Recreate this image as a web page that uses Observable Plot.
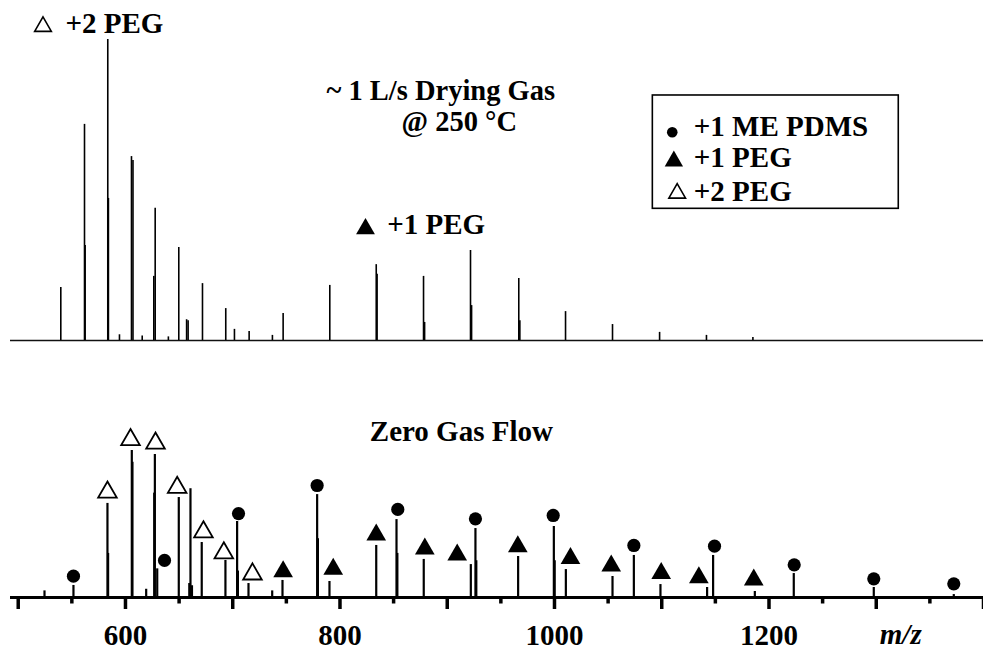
<!DOCTYPE html>
<html>
<head>
<meta charset="utf-8">
<script src="https://cdn.jsdelivr.net/npm/d3@7"></script>
<script src="https://cdn.jsdelivr.net/npm/@observablehq/plot@0.6"></script>
<style>
  html, body { margin: 0; padding: 0; background: white; }
  #chart svg { display: block; }
</style>
</head>
<body>
<div id="chart"></div>
<script>
// ---------- data (m/z, relative intensity %) ----------
const xDomain = [492.8, 1400];

// Top spectrum: ~1 L/s drying gas @ 250 °C
const topMz  = [539.7, 561.8, 562.4, 583.5, 584.1, 594.4, 605.6, 607.0, 615.6, 626.4, 627.7, 640.0, 649.7, 657.0, 658.4, 671.8, 693.5, 701.6, 715.3, 737.0, 747.0, 790.5, 833.8, 834.6, 877.9, 878.9, 921.7, 922.7, 966.7, 967.7, 1010.3, 1054.1, 1098.0, 1141.7, 1185.0];
const topInt = [17.6, 71.8, 31.6, 100, 47.2, 1.9, 61.1, 59.8, 1.5, 21.3, 43.9, 1.2, 30.9, 6.9, 6.6, 18.9, 10.6, 3.7, 3.0, 1.7, 9.0, 18.3, 25.2, 22.0, 21.3, 6.0, 29.9, 11.6, 20.6, 6.6, 9.6, 5.3, 2.7, 1.7, 1.0];

// Bottom spectrum: zero gas flow
const botMz  = [524.5, 551.5, 583.2, 583.8, 605.9, 606.5, 619.3, 626.8, 627.4, 629.6, 649.7, 659.5, 660.6, 662.0, 671.1, 693.2, 704.1, 704.8, 714.7, 736.8, 746.4, 778.7, 779.4, 790.2, 833.8, 852.7, 853.5, 878.1, 922.0, 926.3, 927.1, 966.1, 999.4, 1000.2, 1010.6, 1054.1, 1074.0, 1098.8, 1142.3, 1147.9, 1186.8, 1223.1, 1297.7, 1372.3];
const botInt = [4.5, 8.2, 64.0, 30.0, 100, 92, 5.6, 71.0, 97.3, 19.5, 68.0, 9.5, 74.0, 8.0, 37.4, 25.2, 51.7, 18.0, 9.5, 4.5, 11.6, 70.0, 40.0, 10.9, 35.4, 53.0, 30.0, 25.9, 22.4, 46.9, 25.0, 27.9, 48.3, 25.0, 19.0, 14.3, 28.6, 8.8, 6.8, 28.6, 4.1, 16.3, 6.8, 2.0];

// Peak assignment markers in the bottom spectrum (m/z, marker height %)
const pdmsMz  = [551.5, 636.4, 705.4, 778.7, 853.9, 926.3, 998.8, 1074.0, 1149.2, 1223.5, 1297.7, 1372.3];
const pdmsY   = [14.5, 25.2, 57.1, 76.2, 59.9, 53.5, 55.8, 35.4, 34.9, 22.2, 12.7, 9.3];
const peg1Mz  = [747.0, 793.7, 833.8, 879.1, 909.3, 965.8, 1014.9, 1052.9, 1099.5, 1134.6, 1185.8];
const peg1Y   = [17.6, 19.3, 42.7, 33.1, 29.0, 34.6, 26.7, 21.5, 16.5, 13.5, 12.0];
const peg2Mz  = [583.2, 604.7, 628.0, 648.2, 672.7, 691.7, 718.4];
const peg2Y   = [71.6, 107.3, 104.9, 74.8, 44.6, 30.3, 15.9];

// Axis ticks
const majorTicks = [500, 600, 700, 800, 900, 1000, 1100, 1200, 1300, 1400];
const minorTicks = [550, 650, 750, 850, 950, 1050, 1150, 1250, 1350];
const tickLabels = [600, 800, 1000, 1200];

// Annotations (text, m/z, intensity %)
const topLabels = [
  {text: "+2 PEG", mz: 544.1, y: 102.0},
  {text: "+1 PEG", mz: 844.0, y: 35.4}
];
const conditionLines = [
  {text: "~ 1 L/s Drying Gas", mz: 787.4, y: 79.8},
  {text: "@ 250 °C", mz: 857.4, y: 69.7}
];
const topLabelSymbols = [
  {mz: 523.1, y: 104.3, kind: "peg2"},
  {mz: 823.8, y: 37.1, kind: "peg1"}
];
const legendBox = [{x1: 1091.7, x2: 1321.0, y1: 43.75, y2: 81.4}];
const legendNames = ["+1 ME PDMS", "+1 PEG", "+2 PEG"];
const legendTextMz = 1129.9;
const legendTextY = [68.1, 57.8, 46.2];
const legendSymMz = [1109.8, 1111.3, 1114.4];
const legendSymY = [69.2, 59.6, 48.9];
const bottomLabels = [{text: "Zero Gas Flow", mz: 827.8, y: 106.8}];
const axisTitle = [{text: "m/z", mz: 1303.3, y: -31.3}];

// ---------- build tables ----------
const topPeaks = topMz.map((mz, i) => ({mz, h: topInt[i]}));
const botPeaks = botMz.map((mz, i) => ({mz, h: botInt[i]}));
const pdms = pdmsMz.map((mz, i) => ({mz, y: pdmsY[i]}));
const peg1 = peg1Mz.map((mz, i) => ({mz, y: peg1Y[i]}));
const peg2 = peg2Mz.map((mz, i) => ({mz, y: peg2Y[i]}));
const legend = legendNames.map((name, i) => ({name, tx: legendTextMz, ty: legendTextY[i], sx: legendSymMz[i], sy: legendSymY[i]}));

const font = "'Liberation Serif', 'Times New Roman', serif";
const baseStyle = {fontFamily: font, fontWeight: "bold", background: "white", overflow: "visible"};

const topChart = Plot.plot({
  width: 983, height: 345,
  marginLeft: 10, marginRight: 0, marginTop: 39, marginBottom: 5,
  x: {domain: xDomain, axis: null},
  y: {domain: [0, 100], axis: null},
  style: baseStyle,
  marks: [
    Plot.ruleY([0], {stroke: "#111", strokeWidth: 1.5}),
    Plot.ruleX(topPeaks, {x: "mz", y1: 0, y2: "h", stroke: "#000", strokeWidth: 1.6}),
    Plot.text(topLabels, {x: "mz", y: "y", text: "text", textAnchor: "start", lineAnchor: "bottom", fontSize: 29, fill: "#000"}),
    Plot.text(conditionLines, {x: "mz", y: "y", text: "text", textAnchor: "start", lineAnchor: "bottom", fontSize: 28.5, fill: "#000"}),
    Plot.dot(topLabelSymbols.filter(d => d.kind === "peg2"), {x: "mz", y: "y", symbol: "triangle", r: 6.2, fill: "white", stroke: "#000", strokeWidth: 1.6}),
    Plot.dot(topLabelSymbols.filter(d => d.kind === "peg1"), {x: "mz", y: "y", symbol: "triangle", r: 7, fill: "#000"}),
    Plot.rect(legendBox, {x1: "x1", x2: "x2", y1: "y1", y2: "y2", fill: "none", stroke: "#000", strokeWidth: 1.6}),
    Plot.text(legend, {x: "tx", y: "ty", text: "name", textAnchor: "start", lineAnchor: "bottom", fontSize: 29, fill: "#000"}),
    Plot.dot(legend.slice(0, 1), {x: "sx", y: "sy", symbol: "circle", r: 5.3, fill: "#000"}),
    Plot.dot(legend.slice(1, 2), {x: "sx", y: "sy", symbol: "triangle", r: 6.8, fill: "#000"}),
    Plot.dot(legend.slice(2, 3), {x: "sx", y: "sy", symbol: "triangle", r: 6.2, fill: "white", stroke: "#000", strokeWidth: 1.6})
  ]
});

const bottomChart = Plot.plot({
  width: 983, height: 304,
  marginLeft: 10, marginRight: 0, marginTop: 105, marginBottom: 52,
  x: {domain: xDomain, axis: null},
  y: {domain: [0, 100], axis: null},
  style: baseStyle,
  marks: [
    Plot.ruleX(botPeaks, {x: "mz", y1: 0, y2: "h", stroke: "#000", strokeWidth: 2.2}),
    Plot.ruleY([0], {stroke: "#000", strokeWidth: 3.2}),
    Plot.axisX(majorTicks, {tickSize: 12, strokeWidth: 3.5, tickPadding: 14.5, fontSize: 29, fill: "#000",
      tickFormat: d => tickLabels.includes(d) ? String(d) : "", label: null}),
    Plot.axisX(minorTicks, {tickSize: 6.5, strokeWidth: 3.5, tickFormat: () => "", label: null}),
    Plot.dot(pdms, {x: "mz", y: "y", symbol: "circle", r: 6.6, fill: "#000"}),
    Plot.dot(peg1, {x: "mz", y: "y", symbol: "triangle", r: 7.3, fill: "#000"}),
    Plot.dot(peg2, {x: "mz", y: "y", symbol: "triangle", r: 6.9, fill: "white", stroke: "#000", strokeWidth: 1.8}),
    Plot.text(bottomLabels, {x: "mz", y: "y", text: "text", textAnchor: "start", lineAnchor: "bottom", fontSize: 29, fill: "#000"}),
    Plot.text(axisTitle, {x: "mz", y: "y", text: "text", textAnchor: "start", lineAnchor: "bottom", fontSize: 29, fontStyle: "italic", fill: "#000"})
  ]
});

document.getElementById("chart").append(topChart, bottomChart);
</script>
</body>
</html>
